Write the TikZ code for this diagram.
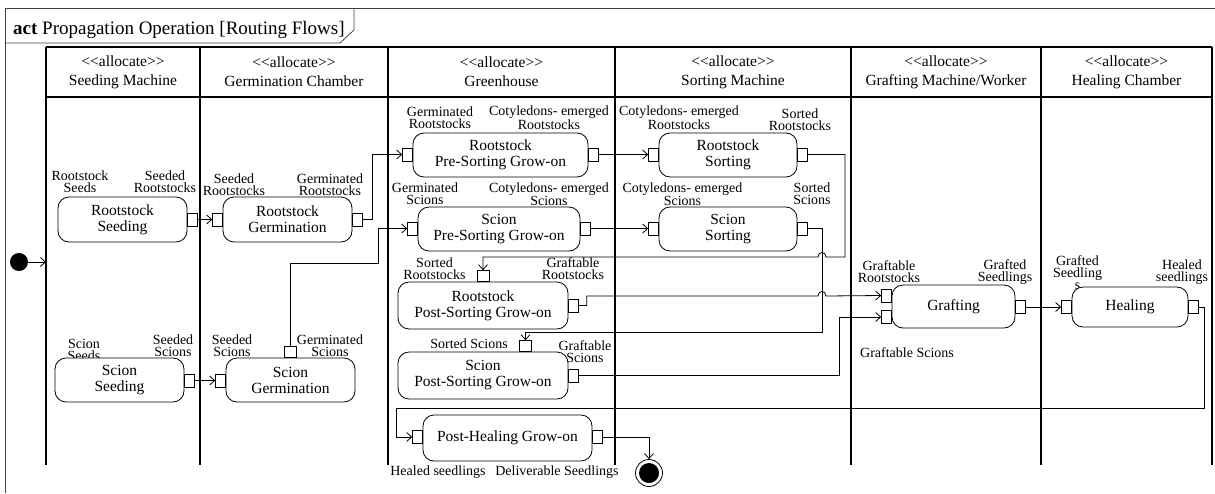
\documentclass[tikz,border=0pt]{standalone}
\usepackage{fontspec}
\setmainfont{Liberation Serif}
\usetikzlibrary{arrows.meta}
\begin{document}
\begin{tikzpicture}[x=1pt,y=-1pt,
  act/.style={draw, rounded corners=11pt, fill=white, line width=0.8pt, align=center,
    font=\fontsize{15.5}{16}\selectfont, inner sep=0},
  pinbox/.style={draw, fill=white, line width=0.8pt, minimum width=10pt, minimum height=13pt, inner sep=0},
  toppin/.style={draw, fill=white, line width=0.8pt, minimum width=12pt, minimum height=11pt, inner sep=0},
  lbl/.style={align=center, font=\fontsize{14}{12}\selectfont, inner sep=0},
  flow/.style={line width=0.8pt, -{Straight Barb[length=5pt,width=9pt]}},
  lane/.style={line width=2pt},
  hdr/.style={align=center, font=\fontsize{15.5}{19}\selectfont, inner sep=0},
  frame/.style={line width=0.8pt, black!75}]
\useasboundingbox (0,0) rectangle (1215,493);
% frame
\draw[frame] (5,493) -- (5,8) -- (1215,8);
\draw[frame] (5,43) -- (340,43) -- (354,30) -- (354,8);
\node[anchor=base west, font=\fontsize{19}{22}\selectfont, inner sep=0] (title) at (13,34)
  {\textbf{act} Propagation Operation [Routing Flows]};
% lanes
\draw[lane] (46,47) -- (1212,47);
\draw[lane] (46,97) -- (1212,97);
\foreach \x in {46,200,388,615,851,1041,1212} \draw[lane] (\x,47) -- (\x,465);
\node[hdr] (h1) at (123,72) {<{}<allocate>{}>\\Seeding Machine};
\node[hdr] (h2) at (294,72) {<{}<allocate>{}>\\Germination Chamber};
\node[hdr] (h3) at (501.5,72) {<{}<allocate>{}>\\Greenhouse};
\node[hdr] (h4) at (733,72) {<{}<allocate>{}>\\Sorting Machine};
\node[hdr] (h5) at (946,72) {<{}<allocate>{}>\\Grafting Machine/Worker};
\node[hdr] (h6) at (1126.5,72) {<{}<allocate>{}>\\Healing Chamber};
% pin labels
\node[lbl] (l1) at (80,182) {Rootstock\\Seeds};
\node[lbl] (l2) at (165,182) {Seeded\\Rootstocks};
\node[lbl] (l3) at (234,185) {Seeded\\Rootstocks};
\node[lbl] (l4) at (330,185) {Germinated\\Rootstocks};
\node[lbl] (l5) at (440,117.5) {Germinated\\Rootstocks};
\node[lbl] (l6) at (549,117.5) {Cotyledons- emerged\\Rootstocks};
\node[lbl] (l7) at (679,117.5) {Cotyledons- emerged\\Rootstocks};
\node[lbl] (l8) at (800,120) {Sorted\\Rootstocks};
\node[lbl] (l9) at (425,194) {Germinated\\Scions};
\node[lbl] (l10) at (549,194) {Cotyledons- emerged\\Scions};
\node[lbl] (l11) at (682.5,194) {Cotyledons- emerged\\Scions};
\node[lbl] (l12) at (812,194) {Sorted\\Scions};
\node[lbl] (l13) at (434.5,269) {Sorted\\Rootstocks};
\node[lbl] (l14) at (573,269) {Graftable\\Rootstocks};
\node[lbl] (l15) at (469,344) {Sorted Scions};
\node[lbl] (l16) at (585,352) {Graftable\\Scions};
\node[lbl] (l17) at (438,472) {Healed seedlings};
\node[lbl] (l18) at (557,472) {Deliverable Seedlings};
\node[lbl] (l19) at (889,272) {Graftable\\Rootstocks};
\node[lbl] (l20) at (1005,272) {Grafted\\Seedlings};
\node[lbl] (l21) at (907,353) {Graftable Scions};
\node[lbl] (l22) at (1077.5,273) {Grafted\\Seedling\\s};
\node[lbl] (l23) at (1182,272) {Healed\\seedlings};
\node[lbl] (l24) at (84,350) {Scion\\Seeds};
\node[lbl] (l25) at (173,346) {Seeded\\Scions};
\node[lbl] (l26) at (232,346) {Seeded\\Scions};
\node[lbl] (l27) at (330,346) {Germinated\\Scions};
% activities
\node[act, minimum width=129pt, minimum height=45pt] (rseed) at (122.5,219.5) {Rootstock\\Seeding};
\node[act, minimum width=129pt, minimum height=45pt] (rgerm) at (287.5,219.5) {Rootstock\\Germination};
\node[act, minimum width=175pt, minimum height=44pt] (rpsg) at (500.5,155) {Rootstock\\Pre-Sorting Grow-on};
\node[act, minimum width=162pt, minimum height=44pt] (spsg) at (499,229) {Scion\\Pre-Sorting Grow-on};
\node[act, minimum width=138pt, minimum height=44pt] (rsort) at (728,155) {Rootstock\\Sorting};
\node[act, minimum width=138pt, minimum height=44pt] (ssort) at (728,229) {Scion\\Sorting};
\node[act, minimum width=170pt, minimum height=47pt] (rpost) at (483,305.5) {Rootstock\\Post-Sorting Grow-on};
\node[act, minimum width=170pt, minimum height=47pt] (spost) at (483,375.5) {Scion\\Post-Sorting Grow-on};
\node[act, minimum width=169pt, minimum height=46pt] (phg) at (507.5,438) {Post-Healing Grow-on};
\node[act, minimum width=123pt, minimum height=43pt] (graft) at (953.5,306.5) {Grafting};
\node[act, minimum width=116pt, minimum height=40pt] (heal) at (1130,307) {Healing};
\node[act, minimum width=129pt, minimum height=44pt] (sseed) at (119.5,380) {Scion\\Seeding};
\node[act, minimum width=129pt, minimum height=44pt] (sgerm) at (290.5,380) {Scion\\Germination};
% pins
\node[pinbox, anchor=west] (rseedout) at (187,219.5) {};
\node[pinbox, anchor=east] (rgermin) at (223,219.5) {};
\node[pinbox, anchor=west] (rgermout) at (352,219.5) {};
\node[pinbox, anchor=east] (rpsgin) at (413,154.5) {};
\node[pinbox, anchor=west] (rpsgout) at (588,154.5) {};
\node[pinbox, anchor=east] (spsgin) at (418,228.5) {};
\node[pinbox, anchor=west] (spsgout) at (580,228.5) {};
\node[pinbox, anchor=east] (rsortin) at (659,154.5) {};
\node[pinbox, anchor=west] (rsortout) at (797,154.5) {};
\node[pinbox, anchor=east] (ssortin) at (659,228.5) {};
\node[pinbox, anchor=west] (ssortout) at (797,228.5) {};
\node[toppin, anchor=south] (rpostin) at (483,282) {};
\node[pinbox, anchor=west] (rpostout) at (568,305.5) {};
\node[toppin, anchor=south] (spostin) at (525.5,352) {};
\node[pinbox, anchor=west] (spostout) at (568,375.5) {};
\node[pinbox, anchor=east] (phgin) at (423,437) {};
\node[pinbox, anchor=west] (phgout) at (592,437) {};
\node[pinbox, anchor=east] (graftinr) at (892,295.5) {};
\node[pinbox, anchor=east] (graftins) at (892,317) {};
\node[pinbox, anchor=west] (graftout) at (1015,307) {};
\node[pinbox, anchor=east] (healin) at (1072,307) {};
\node[pinbox, anchor=west] (healout) at (1188,307) {};
\node[pinbox, anchor=west] (sseedout) at (184,380.5) {};
\node[pinbox, anchor=east] (sgermin) at (226,380.5) {};
\node[toppin, anchor=south] (sgermtop) at (290.5,358) {};
% initial and final nodes
\node[circle, fill=black, minimum size=18pt, inner sep=0] (init) at (19,262) {};
\coordinate (initend) at (46,262);
\node[circle, draw, line width=0.8pt, minimum size=27pt, inner sep=0] (final) at (649,473) {};
\node[circle, fill=black, minimum size=20pt, inner sep=0] (finalin) at (649,473) {};
% flows
\draw[flow] (init) -- (initend);
\draw[flow] (rseedout.east) -- (rgermin.west);
\draw[flow] (rgermout.east) -- ++(10,0) |- (rpsgin.west);
\draw[flow] (sgermtop.north) |- (378,263) |- (spsgin.west);
\draw[flow] (sseedout.east) -- (sgermin.west);
\draw[flow] (rpsgout.east) -- (rsortin.west);
\draw[flow] (spsgout.east) -- (ssortin.west);
\draw[flow] (rsortout.east) -| (845,257) -- (826,257) .. controls (826,251) and (818,251) .. (818,257) -| (rpostin.north);
\draw[flow] (ssortout.east) -| (822,332) -| (spostin.north);
\draw[flow] (rpostout.east) -- ++(8,0) |- (818,296) .. controls (818,290) and (826,290) .. (826,296) -- (graftinr.west);
\draw[flow] (spostout.east) -| (839,317) -- (graftins.west);
\draw[flow] (graftout.east) -- (healin.west);
\draw[flow] (healout.east) -- ++(6,0) |- (396,408) |- (phgin.west);
\draw[flow] (phgout.east) -| (final.north);
\end{tikzpicture}
\end{document}
